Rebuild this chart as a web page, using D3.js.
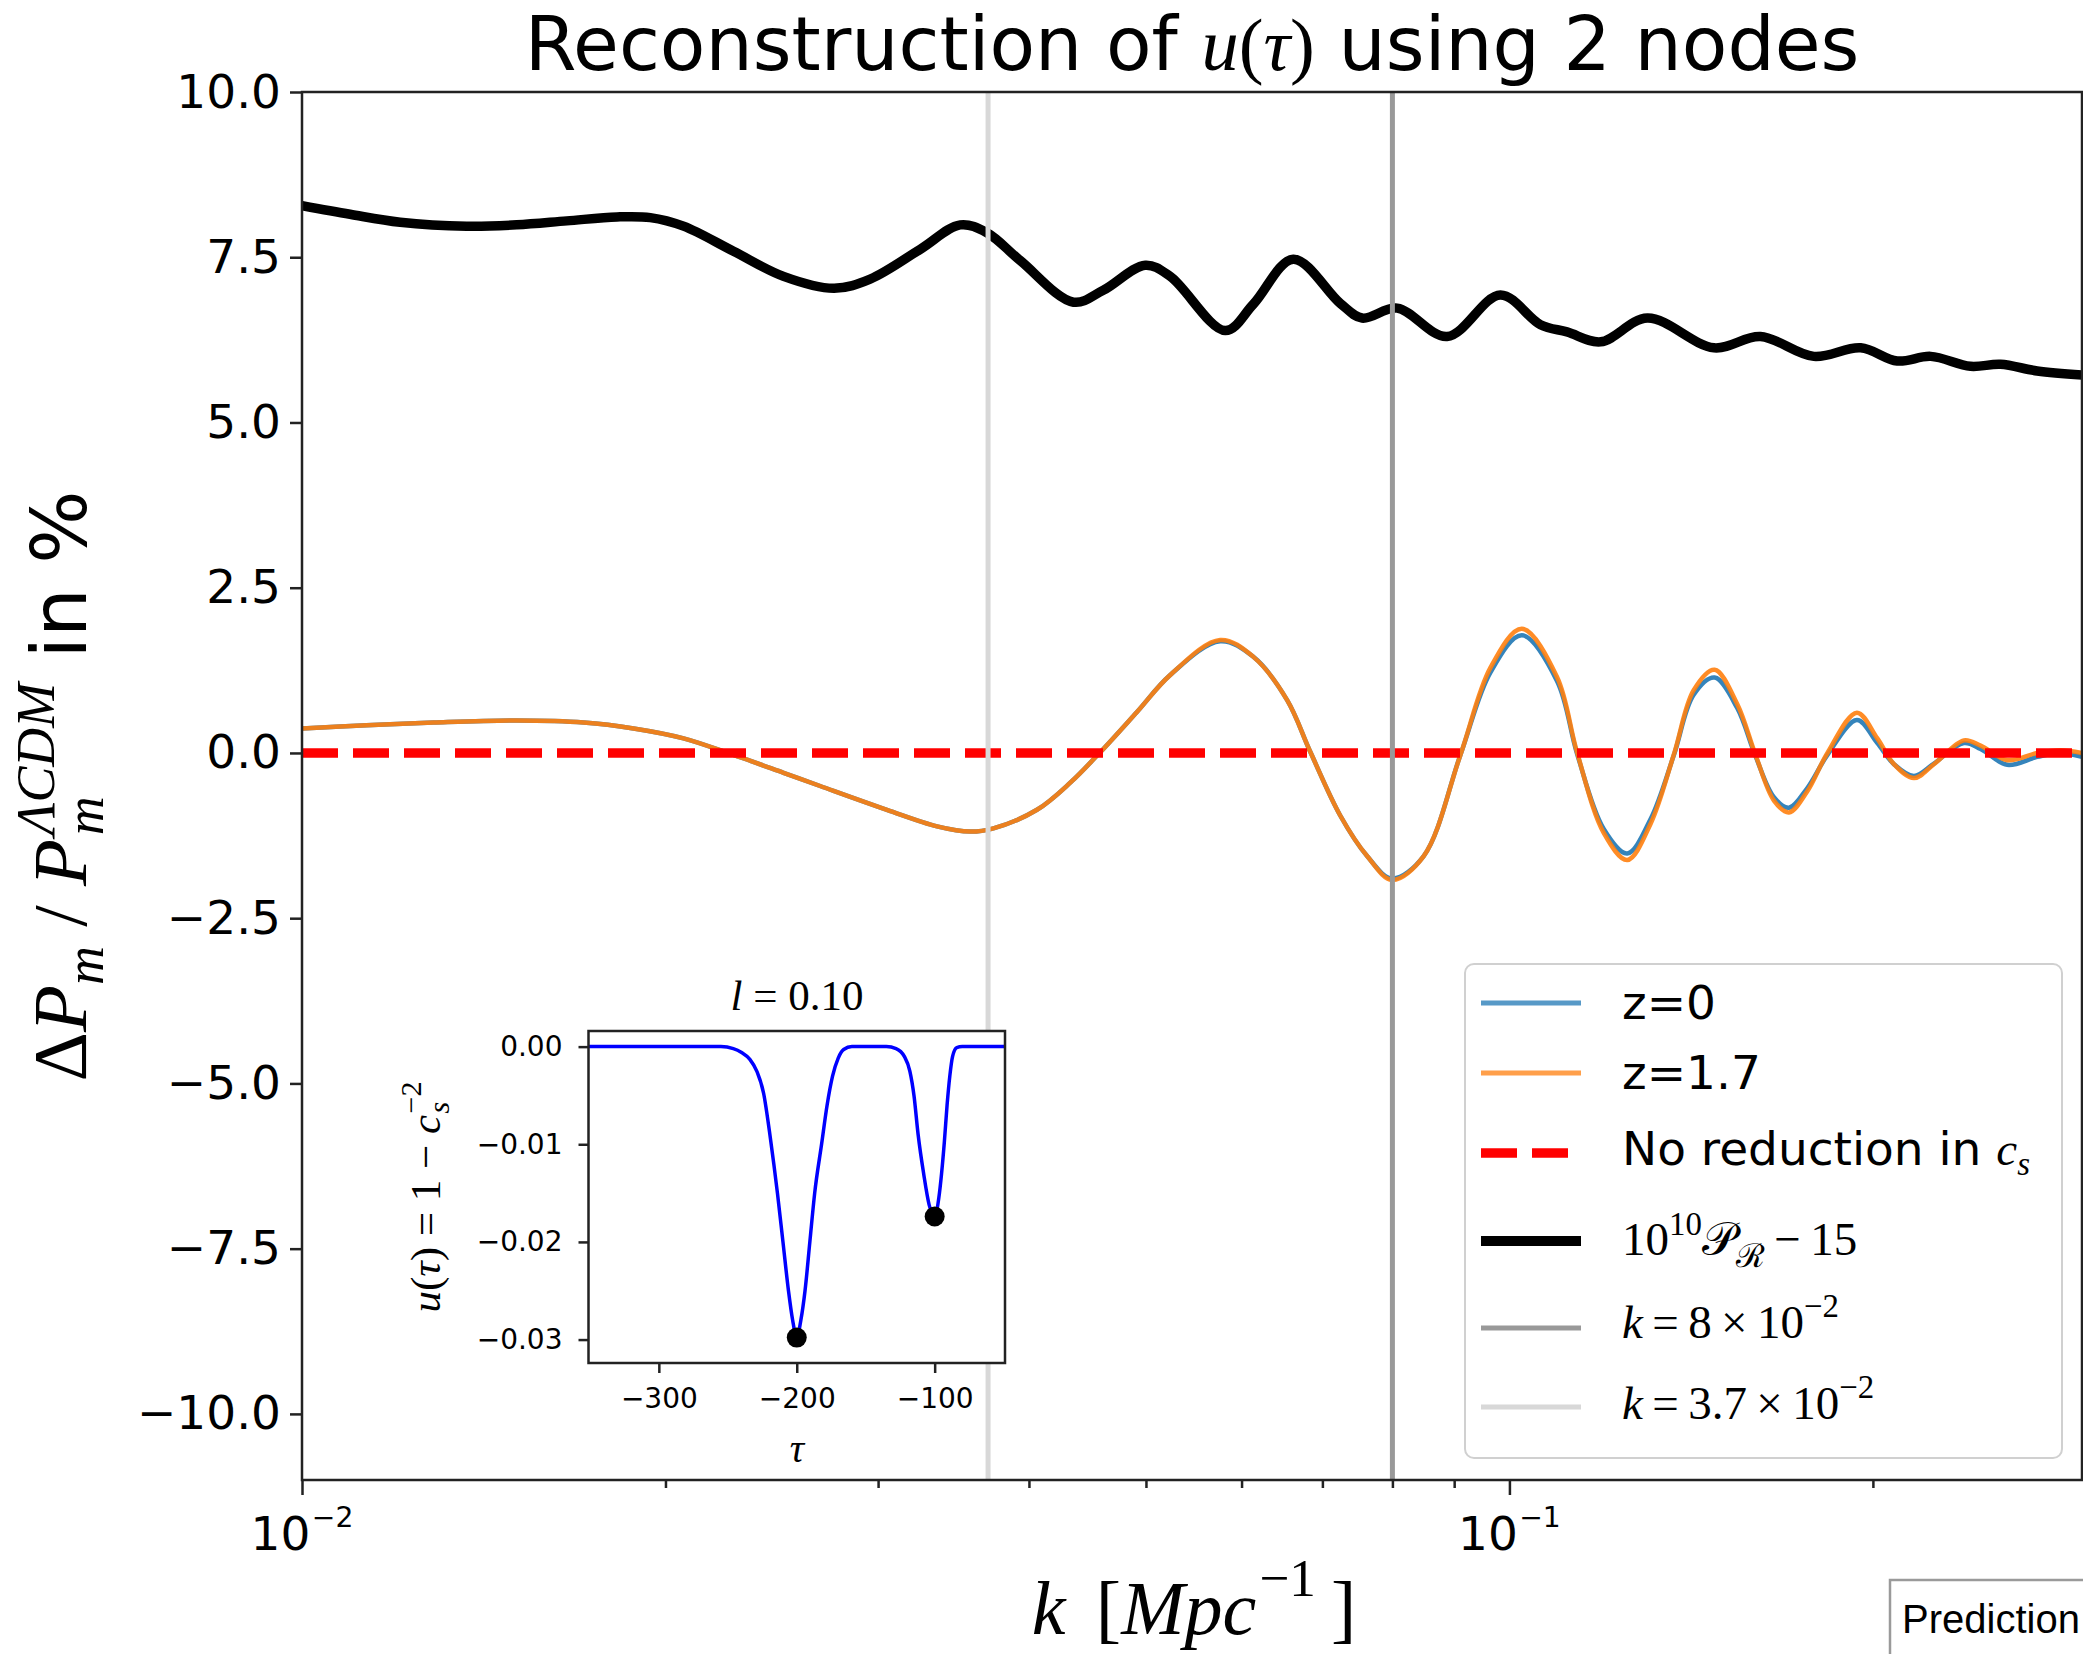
<!DOCTYPE html>
<html>
<head>
<meta charset="utf-8">
<script src="https://cdn.jsdelivr.net/npm/d3@7"></script>
<style>
  html, body { margin: 0; padding: 0; background: #fff; }
  svg { display: block; }
  text { white-space: pre; }
</style>
</head>
<body>
<svg id="chart" width="2083" height="1654"></svg>
<script>
// ── Data ───────────────────────────────────────────────────────────────────
// primordial spectrum curve: 10^10 P_R - 15
const kBlack = [0.0100, 0.01096, 0.01206, 0.01369, 0.01506, 0.01657, 0.01823, 0.01943,
  0.02070, 0.02277, 0.02505, 0.02759, 0.02955, 0.03251, 0.03509, 0.03692, 0.03934,
  0.04355, 0.04609, 0.04994, 0.05237, 0.05817, 0.06137, 0.06622, 0.07244, 0.07551,
  0.08072, 0.08879, 0.09829, 0.1061, 0.1116, 0.1190, 0.1301, 0.1477, 0.1614, 0.1787,
  0.1954, 0.2095, 0.2233, 0.2409, 0.2551, 0.2736, 0.2980];
const pBlack = [8.28, 8.15, 8.03, 7.97, 7.99, 8.05, 8.11, 8.10,
  7.97, 7.59, 7.21, 7.03, 7.17, 7.62, 7.99, 7.87, 7.45,
  6.82, 7.00, 7.38, 7.21, 6.39, 6.79, 7.47, 6.80, 6.58,
  6.73, 6.30, 6.93, 6.48, 6.37, 6.22, 6.58, 6.13, 6.30, 6.00,
  6.13, 5.93, 6.00, 5.85, 5.88, 5.78, 5.72];

// matter power spectrum change, shared k grid
const kZ = [0.0100, 0.01131, 0.01285, 0.01506, 0.01711, 0.01882, 0.02070, 0.02277,
  0.02505, 0.02686, 0.03051, 0.03357, 0.03576, 0.03738, 0.04062, 0.04328, 0.04582,
  0.04915, 0.05237, 0.05760, 0.06140, 0.06545, 0.06843, 0.07244, 0.07623, 0.07994,
  0.08492, 0.09108, 0.09645, 0.1024, 0.1095, 0.1138, 0.1197, 0.1252, 0.1309, 0.1368,
  0.1421, 0.1479, 0.1544, 0.1599, 0.1656, 0.1704, 0.1765, 0.1834, 0.1940, 0.2017,
  0.2082, 0.2163, 0.2247, 0.2379, 0.2456, 0.2584, 0.2736, 0.2861, 0.2980];
const dZ17 = [0.37, 0.42, 0.46, 0.49, 0.46, 0.37, 0.22, -0.03,
  -0.30, -0.50, -0.86, -1.11, -1.19, -1.14, -0.86, -0.45, 0.01,
  0.62, 1.18, 1.71, 1.45, 0.80, 0.01, -0.95, -1.56, -1.92,
  -1.56, -0.03, 1.29, 1.88, 1.15, 0.00, -1.21, -1.62, -1.07, -0.03,
  0.95, 1.26, 0.74, -0.03, -0.72, -0.90, -0.58, 0.00, 0.61, 0.22,
  -0.17, -0.38, -0.17, 0.19, 0.11, -0.11, 0.00, 0.04, 0.00];
const dZ0 = [0.37, 0.42, 0.46, 0.49, 0.46, 0.37, 0.22, -0.03,
  -0.30, -0.50, -0.86, -1.11, -1.19, -1.14, -0.86, -0.45, 0.01,
  0.62, 1.18, 1.69, 1.45, 0.80, 0.01, -0.95, -1.56, -1.90,
  -1.56, -0.03, 1.22, 1.78, 1.09, -0.02, -1.15, -1.52, -1.00, -0.04,
  0.88, 1.14, 0.68, -0.05, -0.67, -0.83, -0.53, -0.03, 0.50, 0.15,
  -0.17, -0.35, -0.16, 0.15, 0.06, -0.18, -0.06, 0.00, -0.06];

const kMarkers = [0.08, 0.037];

// inset: u(tau) = 1 - c_s^-2
const tauPts = [-351, -255, -246, -240, -234, -229, -224, -219, -214, -210, -206, -203,
  -200, -197, -194, -190.5, -187, -182, -178, -174, -170, -166, -160,
  -135, -128, -122, -118, -115, -112, -108, -104, -100, -97, -95, -93, -91, -89, -87,
  -84, -80, -49];
const uPts = [0, 0, -0.0002, -0.0006, -0.0013, -0.0025, -0.0048, -0.0095, -0.0150, -0.0200, -0.0250, -0.0280,
  -0.0298, -0.0280, -0.0250, -0.0200, -0.0150, -0.0100, -0.0060, -0.0030, -0.0012, -0.0003, 0,
  0, -0.0002, -0.0010, -0.0025, -0.0050, -0.0090, -0.0130, -0.0162, -0.0174, -0.0155, -0.0130, -0.0098, -0.0060, -0.0030, -0.0010,
  -0.0001, 0, 0];
const nodeTau = [-200, -100];
const nodeU   = [-0.0298, -0.0174];

// ticks
const yTicks      = [-10, -7.5, -5, -2.5, 0, 2.5, 5, 7.5, 10];
const xMajor      = [0.01, 0.1];
const xMinor      = [0.02, 0.03, 0.04, 0.05, 0.06, 0.07, 0.08, 0.09, 0.2];
const insetXTicks = [-300, -200, -100];
const insetYTicks = [0, -0.01, -0.02, -0.03];

// ── Layout / style ─────────────────────────────────────────────────────────
const SANS  = "'DejaVu Sans', sans-serif";
const SERIF = "'Liberation Serif', 'DejaVu Serif', serif";
const C0 = "#1f77b4", C1 = "#ff7f0e";
const M  = { left: 302, right: 2082, top: 92, bottom: 1480 };
const IN = { left: 588.5, right: 1005, top: 1031, bottom: 1363 };

const svg = d3.select("#chart");

// small helper for mixed text / math runs
function rich(parent, pieces, size, anchor) {
  const g = parent.append("g");
  let cx = 0, lastStart = 0;
  pieces.forEach(p => {
    const t = g.append("text")
      .attr("font-family", p.m ? SERIF : SANS)
      .attr("font-style", p.it ? "italic" : null)
      .attr("font-size", size * (p.s || 1))
      .attr("y", (p.dy || 0) * size)
      .attr("fill", "#000")
      .text(p.t);
    const start = p.stack ? lastStart : cx + (p.dx || 0) * size;
    t.attr("x", start);
    const w = t.node().getComputedTextLength();
    if (p.stack) cx = Math.max(cx, start + w);
    else { lastStart = start; cx = start + w; }
  });
  const shift = anchor === "middle" ? cx / 2 : anchor === "end" ? cx : 0;
  g.selectAll("text").each(function () {
    this.setAttribute("x", +this.getAttribute("x") - shift);
  });
  return g;
}

function draw() {
  const x = d3.scaleLog().domain([0.01, 0.298]).range([M.left, M.right]);
  const y = d3.scaleLinear().domain([-11, 10]).range([M.bottom, M.top]);

  svg.append("clipPath").attr("id", "plotClip")
    .append("rect")
    .attr("x", M.left).attr("y", M.top)
    .attr("width", M.right - M.left).attr("height", M.bottom - M.top);

  const plot = svg.append("g").attr("clip-path", "url(#plotClip)");

  const curve = (xs, ys) => d3.line()
    .x((d, i) => x(xs[i]))
    .y((d, i) => y(ys[i]))
    .curve(d3.curveCatmullRom.alpha(0.5))(xs);

  plot.append("path").attr("d", curve(kZ, dZ0))
    .attr("fill", "none").attr("stroke", C0).attr("stroke-width", 4.5).attr("stroke-opacity", 0.9);
  plot.append("path").attr("d", curve(kZ, dZ17))
    .attr("fill", "none").attr("stroke", C1).attr("stroke-width", 4.5).attr("stroke-opacity", 0.9);

  plot.append("line")
    .attr("x1", M.left).attr("x2", M.right)
    .attr("y1", y(0)).attr("y2", y(0))
    .attr("stroke", "#ff0000").attr("stroke-width", 9.5)
    .attr("stroke-dasharray", "36,15");

  plot.append("path").attr("d", curve(kBlack, pBlack))
    .attr("fill", "none").attr("stroke", "#000").attr("stroke-width", 9.5)
    .attr("stroke-linejoin", "round");

  const vColors = ["#999999", "#d8d8d8"];
  kMarkers.forEach((k, i) => {
    plot.append("line")
      .attr("x1", x(k)).attr("x2", x(k))
      .attr("y1", M.top).attr("y2", M.bottom)
      .attr("stroke", vColors[i]).attr("stroke-width", 5);
  });

  // ── Axes ────────────────────────────────────────────────────────────────
  function styleAxis(g, fs) {
    g.select(".domain").remove();
    g.selectAll(".tick line").attr("stroke", "#222").attr("stroke-width", 2.5);
    g.selectAll(".tick text").attr("font-family", SANS).attr("font-size", fs).attr("fill", "#000");
  }

  const yAxisG = svg.append("g").attr("transform", `translate(${M.left},0)`)
    .call(d3.axisLeft(y).tickValues(yTicks).tickFormat(d3.format(".1f")).tickSize(12).tickPadding(9));
  styleAxis(yAxisG, 47);

  const xMajG = svg.append("g").attr("transform", `translate(0,${M.bottom})`)
    .call(d3.axisBottom(x).tickValues(xMajor).tickFormat("").tickSize(15));
  styleAxis(xMajG, 47);
  const xMinG = svg.append("g").attr("transform", `translate(0,${M.bottom})`)
    .call(d3.axisBottom(x).tickValues(xMinor).tickFormat("").tickSize(8));
  styleAxis(xMinG, 47);

  xMajor.forEach(v => {
    const e = Math.round(Math.log10(v));
    const g = svg.append("g").attr("transform", `translate(${x(v)},1550)`);
    rich(g, [{ t: "10" }, { t: "\u2212" + Math.abs(e), s: 0.6, dy: -0.48, dx: 0.03 }], 47, "middle");
  });

  svg.append("rect")
    .attr("x", M.left).attr("y", M.top)
    .attr("width", M.right - M.left).attr("height", M.bottom - M.top)
    .attr("fill", "none").attr("stroke", "#222").attr("stroke-width", 2.5);

  // ── Title & axis labels ─────────────────────────────────────────────────
  rich(svg.append("g").attr("transform", "translate(1192,70)"), [
    { t: "Reconstruction of " },
    { t: "u", m: 1, it: 1 }, { t: "(", m: 1 }, { t: "\u03c4", m: 1, it: 1 }, { t: ")", m: 1 },
    { t: " using 2 nodes" }
  ], 74.5, "middle");

  rich(svg.append("g").attr("transform", "translate(1194,1634)"), [
    { t: "k", m: 1, it: 1 }, { t: "\u2009\u2009[", m: 1 }, { t: "Mpc", m: 1, it: 1 },
    { t: "\u22121", m: 1, s: 0.7, dy: -0.5, dx: 0.04 }, { t: "\u2009]", m: 1 }
  ], 76, "middle");

  rich(svg.append("g").attr("transform", "translate(86,786) rotate(-90)"), [
    { t: "\u0394", m: 1 }, { t: "P", m: 1, it: 1 }, { t: "m", m: 1, it: 1, s: 0.7, dy: 0.22 },
    { t: " / ", m: 1 },
    { t: "P", m: 1, it: 1 },
    { t: "\u039bCDM", m: 1, it: 1, s: 0.7, dy: -0.42, dx: 0.05 },
    { t: "m", m: 1, it: 1, s: 0.7, dy: 0.22, stack: 1 },
    { t: " in %" }
  ], 77, "middle");

  // ── Inset ───────────────────────────────────────────────────────────────
  const ix = d3.scaleLinear().domain([-351, -49]).range([IN.left, IN.right]);
  const iy = d3.scaleLinear().domain([-0.0324, 0.0016]).range([IN.bottom, IN.top]);

  svg.append("rect")
    .attr("x", IN.left).attr("y", IN.top)
    .attr("width", IN.right - IN.left).attr("height", IN.bottom - IN.top)
    .attr("fill", "#fff");

  svg.append("clipPath").attr("id", "insetClip")
    .append("rect")
    .attr("x", IN.left).attr("y", IN.top)
    .attr("width", IN.right - IN.left).attr("height", IN.bottom - IN.top);
  const inset = svg.append("g").attr("clip-path", "url(#insetClip)");

  inset.append("path")
    .attr("d", d3.line().x((d, i) => ix(tauPts[i])).y((d, i) => iy(uPts[i]))
      .curve(d3.curveMonotoneX)(tauPts))
    .attr("fill", "none").attr("stroke", "#0000ff").attr("stroke-width", 3.5);

  inset.selectAll("circle.node").data(nodeTau).join("circle")
    .attr("class", "node")
    .attr("cx", d => ix(d))
    .attr("cy", (d, i) => iy(nodeU[i]))
    .attr("r", 10).attr("fill", "#000");

  const iyG = svg.append("g").attr("transform", `translate(${IN.left},0)`)
    .call(d3.axisLeft(iy).tickValues(insetYTicks).tickFormat(d3.format(".2f")).tickSize(10).tickPadding(16));
  styleAxis(iyG, 28);
  const ixG = svg.append("g").attr("transform", `translate(0,${IN.bottom})`)
    .call(d3.axisBottom(ix).tickValues(insetXTicks).tickFormat(d3.format("d")).tickSize(10).tickPadding(15));
  styleAxis(ixG, 28);

  svg.append("rect")
    .attr("x", IN.left).attr("y", IN.top)
    .attr("width", IN.right - IN.left).attr("height", IN.bottom - IN.top)
    .attr("fill", "none").attr("stroke", "#222").attr("stroke-width", 2.5);

  rich(svg.append("g").attr("transform", "translate(797,1010)"), [
    { t: "l", m: 1, it: 1 }, { t: " = 0.10", m: 1 }
  ], 43, "middle");

  rich(svg.append("g").attr("transform", "translate(797,1462)"), [
    { t: "\u03c4", m: 1, it: 1 }
  ], 40, "middle");

  rich(svg.append("g").attr("transform", "translate(440,1197) rotate(-90)"), [
    { t: "u", m: 1, it: 1 }, { t: "(", m: 1 }, { t: "\u03c4", m: 1, it: 1 },
    { t: ") = 1 \u2212 ", m: 1 },
    { t: "c", m: 1, it: 1 },
    { t: "\u22122", m: 1, s: 0.7, dy: -0.45, dx: 0.03 },
    { t: "s", m: 1, it: 1, s: 0.7, dy: 0.22, stack: 1 }
  ], 43, "middle");

  // ── Legend ──────────────────────────────────────────────────────────────
  const legendLabels = [
    [{ t: "z=0" }],
    [{ t: "z=1.7" }],
    [{ t: "No reduction in " }, { t: "c", m: 1, it: 1 }, { t: "s", m: 1, it: 1, s: 0.7, dy: 0.22 }],
    [{ t: "10", m: 1 }, { t: "10", m: 1, s: 0.7, dy: -0.42 }, { t: "\ud835\udcab", m: 1 },
     { t: "\u211b", m: 1, s: 0.7, dy: 0.25 }, { t: "\u2009\u2212\u200915", m: 1 }],
    [{ t: "k", m: 1, it: 1 }, { t: "\u2009=\u20098\u2009\u00d7\u200910", m: 1 },
     { t: "\u22122", m: 1, s: 0.7, dy: -0.45 }],
    [{ t: "k", m: 1, it: 1 }, { t: "\u2009=\u20093.7\u2009\u00d7\u200910", m: 1 },
     { t: "\u22122", m: 1, s: 0.7, dy: -0.45 }]
  ];
  const legendStyles = [
    { c: C0, w: 5, o: 0.75 }, { c: C1, w: 5, o: 0.75 }, { c: "#ff0000", w: 9.5, dash: "36,15" },
    { c: "#000", w: 10 }, { c: "#999999", w: 5 }, { c: "#d8d8d8", w: 5 }
  ];
  const rowY      = [1003, 1073, 1153, 1241, 1328, 1407];
  const rowBase   = [16, 16, 12, 14, 10, 12];

  svg.append("rect")
    .attr("x", 1465).attr("y", 964).attr("width", 597).attr("height", 494).attr("rx", 9)
    .attr("fill", "#fff").attr("fill-opacity", 0.8)
    .attr("stroke", "#d0d0d0").attr("stroke-width", 2);

  legendLabels.forEach((lab, i) => {
    const st = legendStyles[i];
    svg.append("line")
      .attr("x1", 1481).attr("x2", 1581)
      .attr("y1", rowY[i]).attr("y2", rowY[i])
      .attr("stroke", st.c).attr("stroke-width", st.w)
      .attr("stroke-opacity", st.o || 1)
      .attr("stroke-dasharray", st.dash || null);
    rich(svg.append("g").attr("transform", `translate(1622,${rowY[i] + rowBase[i]})`), lab, 47, "start");
  });

  // ── Stray UI button at the bottom right of the screenshot ───────────────
  svg.append("rect")
    .attr("x", 1890).attr("y", 1580).attr("width", 220).attr("height", 100)
    .attr("fill", "#fff").attr("stroke", "#9a9a9a").attr("stroke-width", 2.5);
  svg.append("text")
    .attr("x", 1902).attr("y", 1633)
    .attr("font-family", "'Liberation Sans', Arial, sans-serif")
    .attr("font-size", 40).attr("fill", "#000")
    .text("Prediction");
}

if (document.fonts && document.fonts.ready) document.fonts.ready.then(draw);
else draw();
</script>
</body>
</html>
